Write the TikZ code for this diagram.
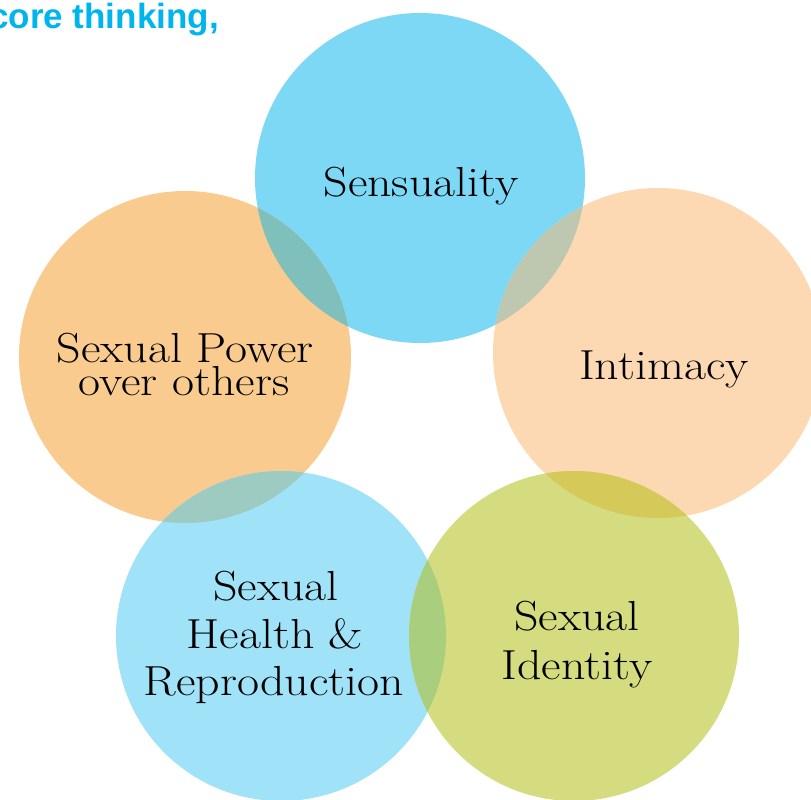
\documentclass[tikz,border=0pt]{standalone}
\usepackage{fontspec}
\newfontfamily\headfont{Liberation Sans}
\newfontfamily\labelfont{Latin Modern Roman}[FakeStretch=1.14]
\definecolor{sensblue}{HTML}{7DD8F6}
\definecolor{powerorange}{HTML}{F9CB8E}
\definecolor{intpeach}{HTML}{FCD9B2}
\definecolor{healthblue}{HTML}{A0E2F8}
\definecolor{identgreen}{HTML}{D5DC80}
\definecolor{lensSP}{HTML}{7FC0BD}
\definecolor{lensSI}{HTML}{BEC7AF}
\definecolor{lensPH}{HTML}{9DCBC2}
\definecolor{lensHI}{HTML}{A8CE7E}
\definecolor{lensII}{HTML}{D5C95A}
\definecolor{headblue}{HTML}{00B4EE}

\begin{document}
\begin{tikzpicture}[x=1pt,y=-1pt,
    label/.style={anchor=base,inner sep=0pt,font=\labelfont\fontsize{42}{50}\selectfont},
    head/.style={anchor=base east,inner sep=0pt,text=headblue,font=\headfont\bfseries\fontsize{35}{40}\selectfont}]
            \useasboundingbox (0,0) rectangle (811,800);
            \clip (0,0) rectangle (811,800);

            % circles
            \fill[sensblue] (420,178) circle (165pt);
            \fill[powerorange] (185,357) circle (166pt);
            \fill[intpeach] (658,353) circle (165pt);
            \fill[healthblue] (281,636) circle (165pt);
            \fill[identgreen] (574,636) circle (165pt);

            % overlaps
            \begin{scope}
                \clip (420,178) circle (165pt);
                \fill[lensSP] (185,357) circle (166pt);
                \fill[lensSI] (658,353) circle (165pt);
            \end{scope}
            \begin{scope}
                \clip (185,357) circle (166pt);
                \fill[lensPH] (281,636) circle (165pt);
            \end{scope}
            \begin{scope}
                \clip (281,636) circle (165pt);
                \fill[lensHI] (574,636) circle (165pt);
            \end{scope}
            \begin{scope}
                \clip (658,353) circle (165pt);
                \fill[lensII] (574,636) circle (165pt);
            \end{scope}

            % labels
            \node[label] (sens) at (421,196) {Sensuality};
            \node[label] (power1) at (185,362) {Sexual Power};
            \node[label] (power2) at (184,395) {over others};
            \node[label] (intim) at (664,379) {Intimacy};
            \node[label] (health1) at (276,600) {Sexual};
            \node[label] (health2) at (275,648) {Health \&};
            \node[label] (health3) at (274,695) {Reproduction};
            \node[label] (ident1) at (577,630) {Sexual};
            \node[label] (ident2) at (577,679) {Identity};

            \node[head] (title) at (219,29) {core thinking,};
        \end{tikzpicture}
\end{document}
